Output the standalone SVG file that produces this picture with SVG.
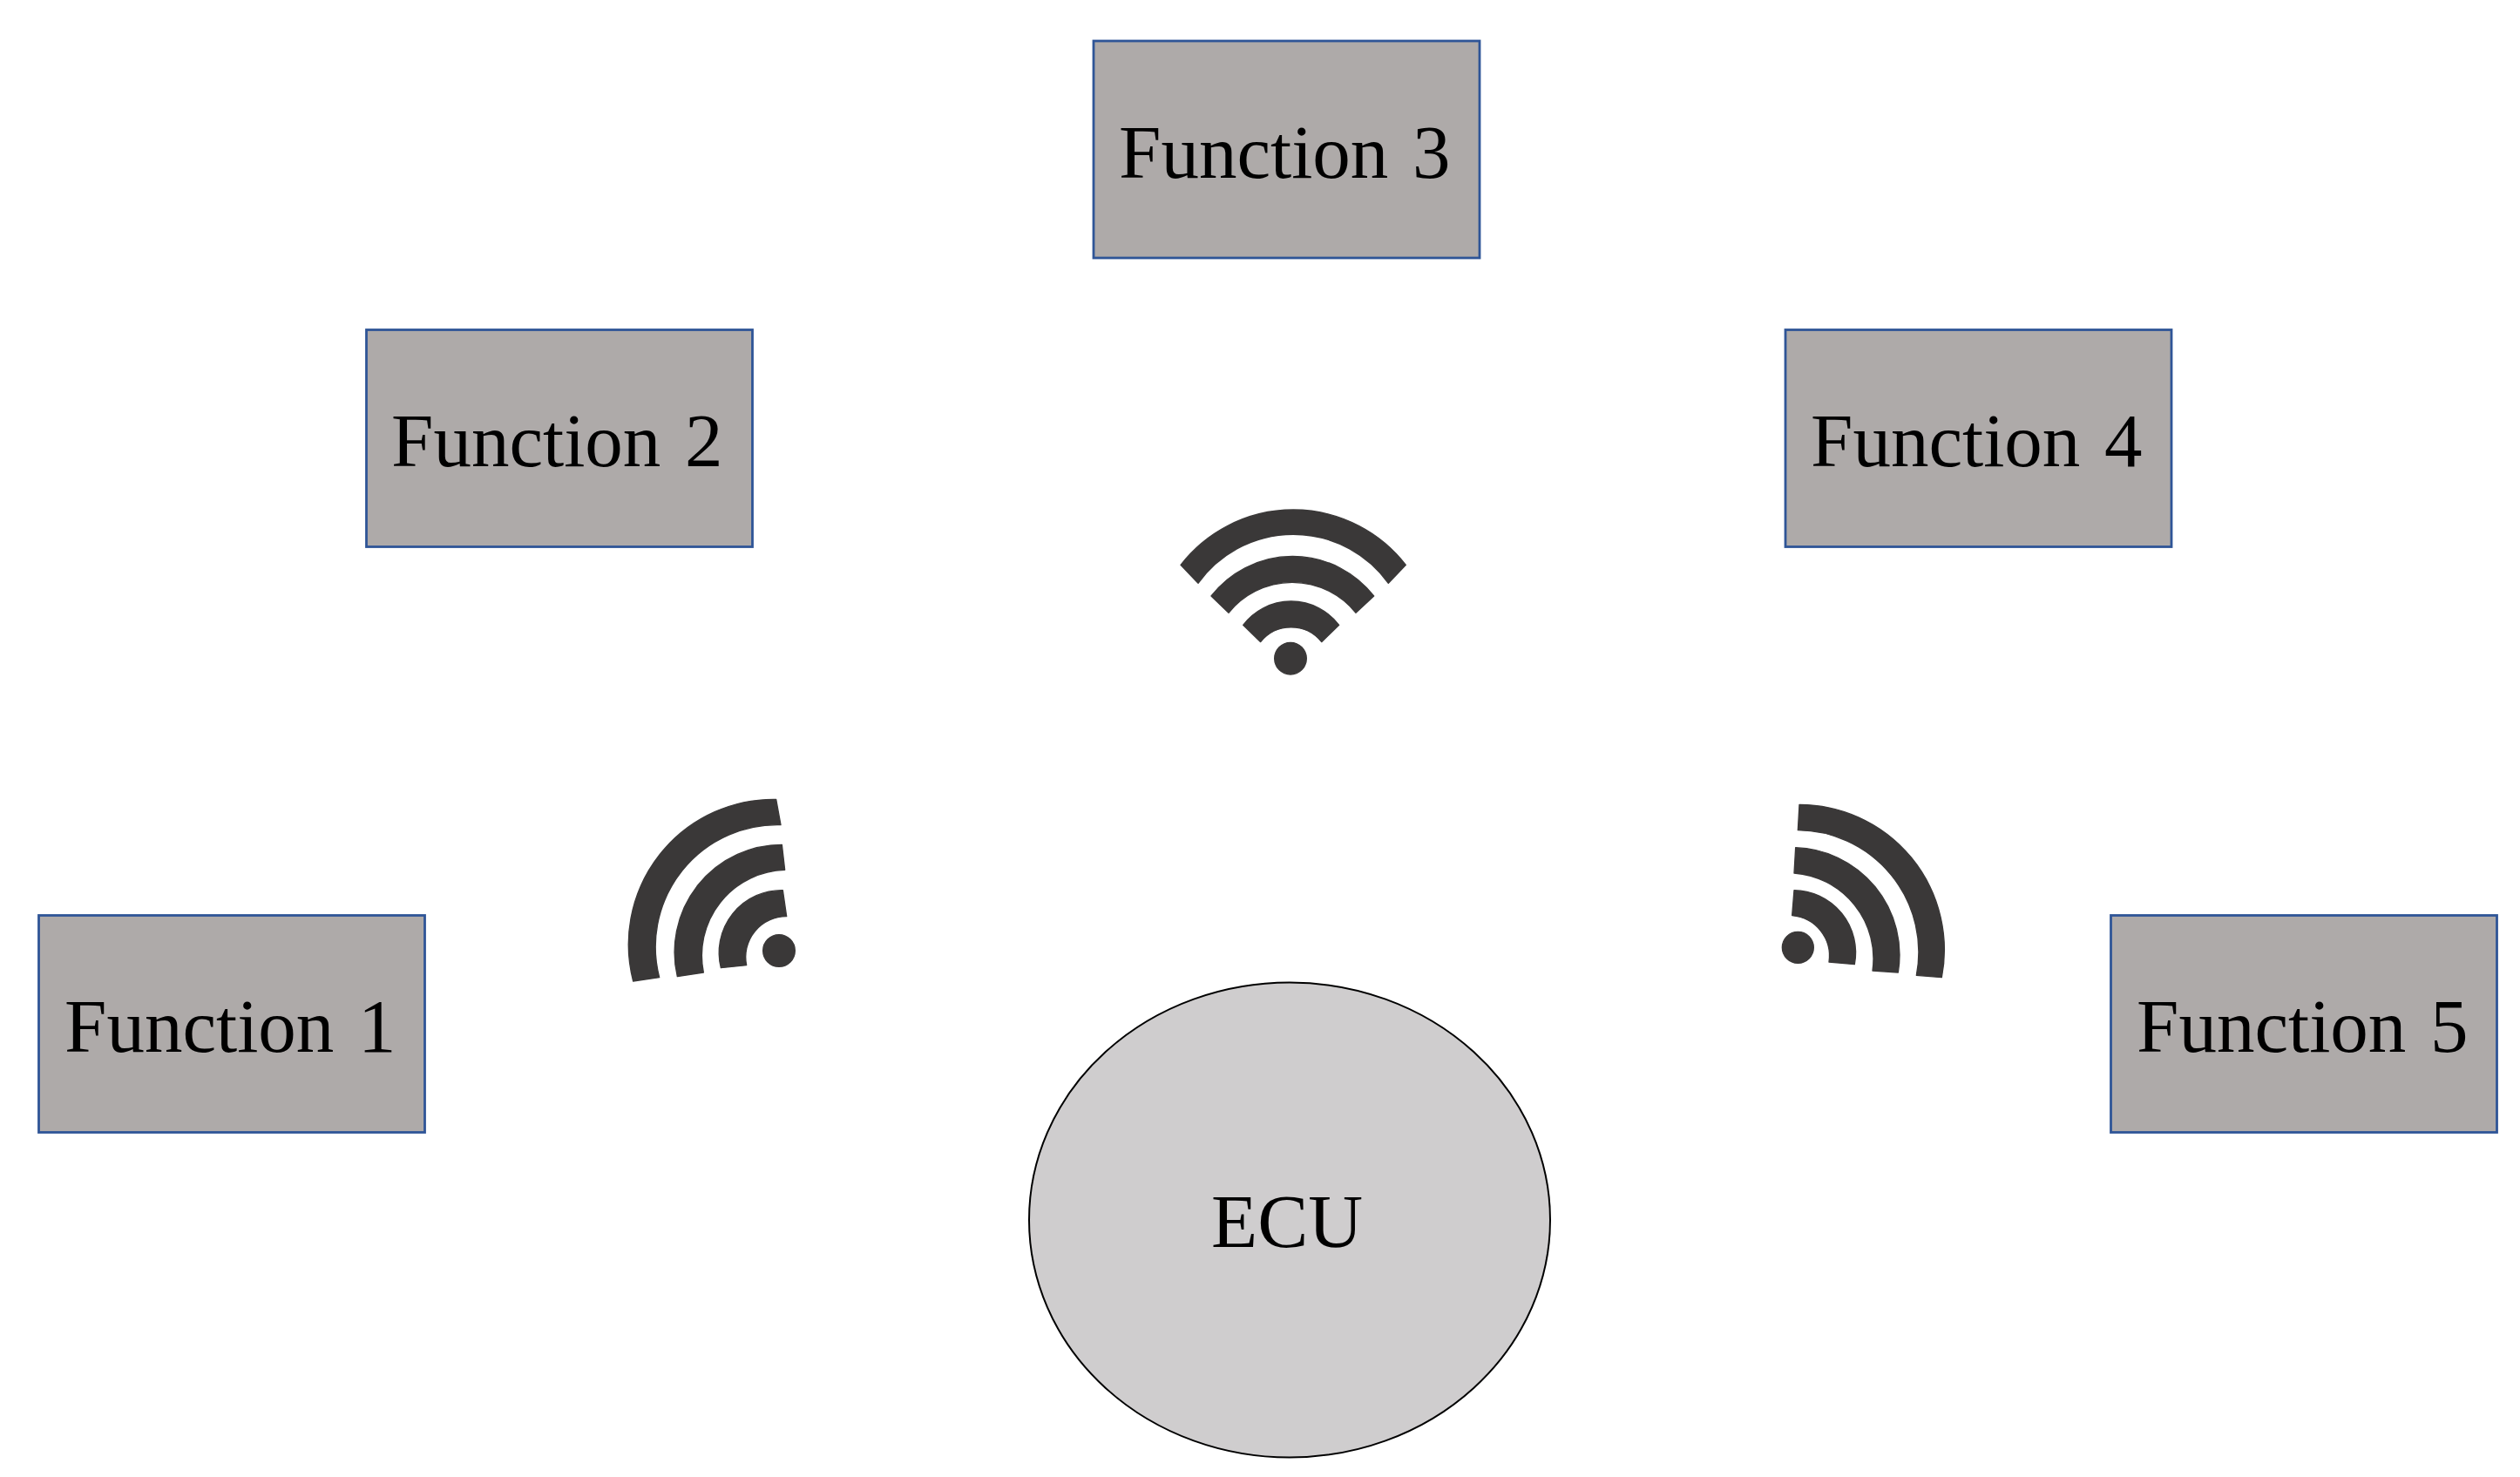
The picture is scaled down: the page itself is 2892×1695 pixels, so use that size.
<svg xmlns="http://www.w3.org/2000/svg" width="2892" height="1695" viewBox="0 0 2892 1695">
<style>
.box{fill:#aeaaa9;stroke:#2f5597;stroke-width:2.8}
.lbl{font-family:"Liberation Serif","Times New Roman",serif;font-size:87px;fill:#000;word-spacing:6px}
.ic{fill:#3a3838;stroke:#3a3838;stroke-width:4;stroke-linejoin:round}
</style>
<rect width="2892" height="1695" fill="#fff"/>
<g id="function-3"><rect class="box" x="1255" y="47" width="443" height="249"/><text class="lbl" x="1284" y="204">Function 3</text></g>
<g id="function-2"><rect class="box" x="420.500" y="378.500" width="443" height="249"/><text class="lbl" x="449" y="535">Function 2</text></g>
<g id="function-4"><rect class="box" x="2049" y="378.500" width="443" height="249"/><text class="lbl" x="2078" y="535">Function 4</text></g>
<g id="function-1"><rect class="box" x="44.500" y="1050.500" width="443" height="249"/><text class="lbl" x="74" y="1207">Function 1</text></g>
<g id="function-5"><rect class="box" x="2422.500" y="1050.500" width="443" height="249"/><text class="lbl" x="2452" y="1207">Function 5</text></g>
<g id="ecu"><ellipse cx="1480" cy="1400" rx="299" ry="272.500" fill="#cfcdce" stroke="#000" stroke-width="2"/><text class="lbl" x="1390" y="1431">ECU</text></g>
<g id="wifi-top" class="ic" transform="translate(1300 540) scale(.33333)">
<path d="M165 325A490 490 0 0 1 940 325L880 388A403 403 0 0 0 225 388Z"/>
<path d="M270 432A355 355 0 0 1 830 432L768 490A281 281 0 0 0 330 490Z"/>
<path d="M380 532A207 207 0 0 1 710 532L650 590A135 135 0 0 0 440 590Z"/>
<circle cx="543" cy="647" r="55"/>
</g>
<g id="wifi-left" class="ic" transform="translate(680 880) scale(.33333)">
<path d="M632 112A500 500 0 0 0 140 738L230 725A420 420 0 0 1 648 200Z"/>
<path d="M652 268A370 370 0 0 0 292 722L382 708A295 295 0 0 1 662 355Z"/>
<path d="M655 425A215 215 0 0 0 442 692L530 683A140 140 0 0 1 668 515Z"/>
<circle cx="642" cy="633" r="55"/>
</g>
<g id="wifi-right" class="ic" transform="translate(2000 880) scale(.33333)">
<path d="M195 130A500 500 0 0 1 685 725L598 718A420 420 0 0 0 190 218Z"/>
<path d="M182 278A370 370 0 0 1 535 708L447 702A295 295 0 0 0 177 366Z"/>
<path d="M177 425A215 215 0 0 1 385 680L297 672A140 140 0 0 0 170 512Z"/>
<circle cx="190" cy="622" r="54"/>
</g>
</svg>
